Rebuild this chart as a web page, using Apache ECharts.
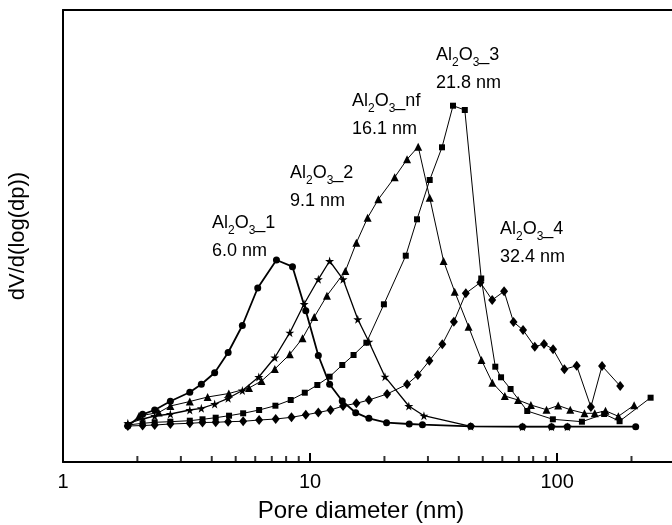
<!DOCTYPE html>
<html>
<head>
<meta charset="utf-8">
<script src="https://cdn.jsdelivr.net/npm/echarts@6/dist/echarts.min.js"></script>
<style>
html,body{margin:0;padding:0;background:#fff;}
#chart{width:672px;height:525px;}
</style>
</head>
<body>
<div id="chart"></div>
<script>
// Pore diameter (nm) and dV/d(log(dp)) (arbitrary units) for each sample
const xS1 = [1.83,2.10,2.35,2.72,3.26,3.63,4.11,4.66,5.32,6.14,7.31,8.49,9.61,10.8,12.0,13.5,15.3,17.3,20.4,25.2,28.5,44.7,72.4,94.9,110,208];
const yS1 = [36,47.7,52,60.7,69.7,77.7,89.3,109.5,136.5,174,202,195.3,151.3,106.5,77.7,61,49.3,43.7,39.3,38,37.3,35.7,35.3,35.3,35.3,35.3];

const xS2 = [1.83,2.10,2.35,2.72,3.26,3.63,4.11,4.66,5.32,6.20,7.20,8.28,9.46,10.8,12.0,13.6,15.6,17.3,20.1,25.1,28.9,44.7,72.4,94.9,110];
const yS2 = [38.7,43,46,48,52,53.7,58,63.7,71.5,85,104.5,129.3,158,182.7,201,182.7,142.7,120.3,85.3,56,46.3,35.7,35.3,35.3,35.3];

const xNF = [2.03,2.44,2.72,3.26,3.85,4.69,5.66,6.36,7.20,8.28,9.32,10.4,11.7,13.9,15.4,17.1,18.9,22.0,24.7,27.4,30.5,34.7,38.5,43.8,49.4,54.7,61.4,69.5,78.3,90.6,101,113,129,142,157,177,205];
const yNF = [46,49.5,56,60.5,65,68.5,74,81,93,107.7,123.7,145,166.3,191,219.3,244.3,262.7,284.7,302.7,315.3,264.3,201,170.3,135.3,102,79.3,66,62,57,52.3,56.5,52.3,48.7,48.7,51.2,45.7,56.8];

const xS3 = [1.83,2.10,2.35,2.72,3.26,3.67,4.15,4.70,5.36,6.22,7.24,8.35,9.52,10.7,12.0,13.5,15.0,16.9,19.9,24.4,27.1,30.5,34.2,37.9,42.3,49.3,56.2,59.3,64.8,75.7,96.1,126,155,179,239];
const yS3 = [37,38.7,39.7,40.3,41.3,42.7,44.3,46.3,48.7,52,56.3,62,69.3,77,85.3,97,107,119.3,157.7,206.3,242.7,282,314.7,356.3,352,183.5,95.3,84.7,73,51,42.7,40.3,48,40.8,64.3];

const xS4 = [1.83,2.10,2.35,2.72,3.26,3.67,4.15,4.66,5.36,6.22,7.26,8.41,9.61,10.8,12.1,13.6,15.4,17.3,20.5,24.7,27.3,30.4,34.3,38.2,42.7,48.9,54.6,61.0,66.6,72.8,81.2,88.5,96.3,107,120,137,152,180];
const yS4 = [36,36.5,37,38,38.7,39.5,39.7,40.3,40.7,42,43,44.7,47.2,49.5,52,56,58.7,62,68,77.7,87,101.3,117.8,140.3,168.7,179.5,162,170.7,140,132,115.3,118,112.8,92.7,96.3,55,96,76];

// tick labels and minor tick positions of the log axis
const tickLabels = [1, 10, 100];
const minorTicks = [2,3,4,5,6,7,8,9,20,30,40,50,60,70,80,90,200];

// annotation texts
const labels = [
  {name:'1', value:'6.0 nm'},
  {name:'2', value:'9.1 nm'},
  {name:'nf', value:'16.1 nm'},
  {name:'3', value:'21.8 nm'},
  {name:'4', value:'32.4 nm'}
];
const labelPos = [[212,210],[290,160],[352,88],[436,42],[500,216]];

const FONT = '"Liberation Sans", Arial, sans-serif';
const STAR = 'path://M50,0 L61,35 L98,35 L68,57 L79,91 L50,70 L21,91 L32,57 L2,35 L39,35 Z';

function zip(xs, ys){ return xs.map((x,i)=>[x, ys[i]]); }

function lineSeries(xs, ys, symbol, size, width){
  return {
    type:'line', data: zip(xs, ys), symbol: symbol, symbolSize: size,
    showAllSymbol: true,
    itemStyle:{color:'#000'}, lineStyle:{color:'#000', width: width},
    emphasis:{disabled:true}, silent:true, z:3
  };
}

const rich = {
  m:{fontSize:18, fontFamily:FONT, color:'#000', lineHeight:28},
  s:{fontSize:12, fontFamily:FONT, color:'#000', lineHeight:28, padding:[15,0,0,0]}
};

const graphics = labels.map((l,i)=>({
  type:'text', left: labelPos[i][0], top: labelPos[i][1], silent:true,
  style:{
    text: '{m|Al}{s|2}{m|O}{s|3}{m|_' + l.name + '}\n{m|' + l.value + '}',
    rich: rich, fill:'#000'
  }
}));

const chart = echarts.init(document.getElementById('chart'), null, {renderer:'canvas'});
chart.setOption({
  animation:false,
  backgroundColor:'#fff',
  grid:{left:63, top:10, width:612, height:452, containLabel:false, outerBoundsMode:'none'},
  xAxis:[{
    type:'log', logBase:10, min:1, max:300,
    name:'Pore diameter (nm)', nameLocation:'middle', nameGap:37,
    nameTextStyle:{fontSize:24, fontFamily:FONT, color:'#000', padding:[0,16,0,0]},
    axisLine:{show:true, lineStyle:{color:'#000', width:2}},
    axisTick:{show:true, inside:true, length:9, lineStyle:{color:'#000', width:2}},
    axisLabel:{fontSize:20, fontFamily:FONT, color:'#000', margin:10,
      formatter: v => tickLabels.indexOf(Math.round(v)) >= 0 ? String(Math.round(v)) : ''},
    splitLine:{show:false}, minorTick:{show:false}
  },{
    type:'log', logBase:10, min:1, max:300, position:'top',
    axisLine:{show:true, lineStyle:{color:'#000', width:2}},
    axisTick:{show:false}, axisLabel:{show:false}, splitLine:{show:false}
  }],
  yAxis:{
    type:'value', min:0, max:452,
    name:'dV/d(log(dp))', nameLocation:'middle', nameGap:34, nameRotate:90,
    nameTextStyle:{fontSize:22, fontFamily:FONT, color:'#000'},
    axisLine:{show:true, lineStyle:{color:'#000', width:2}},
    axisTick:{show:false}, axisLabel:{show:false}, splitLine:{show:false}
  },
  series:[
    lineSeries(xS1, yS1, 'circle', 7, 1.8),
    lineSeries(xS2, yS2, STAR, 9, 1.3),
    lineSeries(xNF, yNF, 'triangle', 8, 1),
    lineSeries(xS3, yS3, 'rect', 6, 1),
    lineSeries(xS4, yS4, 'diamond', [8,10], 1),
    {
      type:'scatter', data: minorTicks.map(v=>[v,0]), symbol:'rect',
      symbolSize:[2,6], symbolOffset:[0,-3], itemStyle:{color:'#000'},
      silent:true, clip:false, z:5
    }
  ],
  graphic: graphics
});
</script>
</body>
</html>
